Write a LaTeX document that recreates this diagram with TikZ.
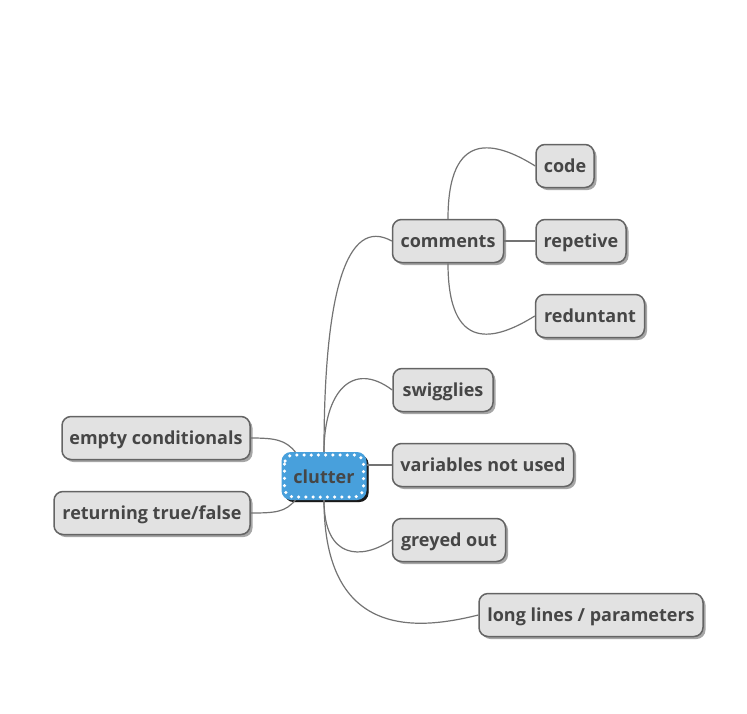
\documentclass[tikz,border=0pt]{standalone}
\usepackage{fontspec}
\setmainfont{Open Sans}
\usetikzlibrary{shadows,calc}
\definecolor{boxfill}{RGB}{226,226,226}
\definecolor{boxdraw}{RGB}{100,100,100}
\definecolor{txt}{RGB}{70,70,70}
\definecolor{linec}{RGB}{115,115,115}
\definecolor{blue1}{RGB}{72,160,220}
\begin{document}
\begin{tikzpicture}[x=1pt,y=-1pt,
  box/.style={draw=boxdraw, line width=1.5pt, fill=boxfill, rounded corners=9pt,
    minimum height=43pt, inner sep=0pt, text=txt, text height=14pt, text depth=2pt,
    font=\fontsize{18}{20}\selectfont\bfseries,
    drop shadow={shadow xshift=2.5pt, shadow yshift=-2.5pt, opacity=0.35, fill=black}},
  root/.style={box, fill=blue1, draw=blue1, line width=1pt, minimum height=47pt,
    text height=15pt, text depth=1pt,
    drop shadow={shadow xshift=2.5pt, shadow yshift=-2.5pt, opacity=0.85, fill=black}},
  dots/.style={draw=white, line width=3.5pt, dash pattern=on 0pt off 7.2pt, line cap=round,
    rounded corners=9pt},
  conn/.style={draw=linec, line width=1.2pt}]
\useasboundingbox (0,0) rectangle (747,713);
\node[root, minimum width=84pt] (clutter) at (324,476) {clutter};
\draw[dots] ($(clutter.north west)+(3,3)$) rectangle ($(clutter.south east)+(-3,-3)$);
\node[box, minimum width=111pt] (comments) at (448,241) {comments};
\node[box, minimum width=58pt] (code) at (565,166) {code};
\node[box, minimum width=90pt] (repetive) at (581,241) {repetive};
\node[box, minimum width=109pt] (reduntant) at (590,316) {reduntant};
\node[box, minimum width=100pt] (swigglies) at (443,390) {swigglies};
\node[box, minimum width=181pt] (variables) at (483,465) {variables not used};
\node[box, minimum width=113pt] (greyed) at (449,540) {greyed out};
\node[box, minimum width=224pt] (long) at (591,615) {long lines / parameters};
\node[box, minimum width=188pt] (empty) at (156,438) {empty conditionals};
\node[box, minimum width=196pt] (returning) at (152,513) {returning true/false};
\draw[conn] (clutter.north) .. controls +(0,-160) and +(-45,-25) .. (comments.west);
\draw[conn] (clutter.north) .. controls +(0,-60) and +(-40,-30) .. (swigglies.west);
\draw[conn] (variables.west) -- (variables.west -| clutter.east);
\draw[conn] (clutter.south) .. controls +(0,60) and +(-30,20) .. (greyed.west);
\draw[conn] (clutter.south) .. controls +(0,140) and +(-60,15) .. (long.west);
\draw[conn] (clutter.140) .. controls +(-10,-12) and +(25,0) .. (empty.east);
\draw[conn] (clutter.220) .. controls +(-10,12) and +(25,0) .. (returning.east);
\draw[conn] (comments.north) .. controls +(0,-90) and +(-40,-25) .. (code.west);
\draw[conn] (comments.east) -- (repetive.west);
\draw[conn] (comments.south) .. controls +(0,90) and +(-40,25) .. (reduntant.west);
\end{tikzpicture}
\end{document}
